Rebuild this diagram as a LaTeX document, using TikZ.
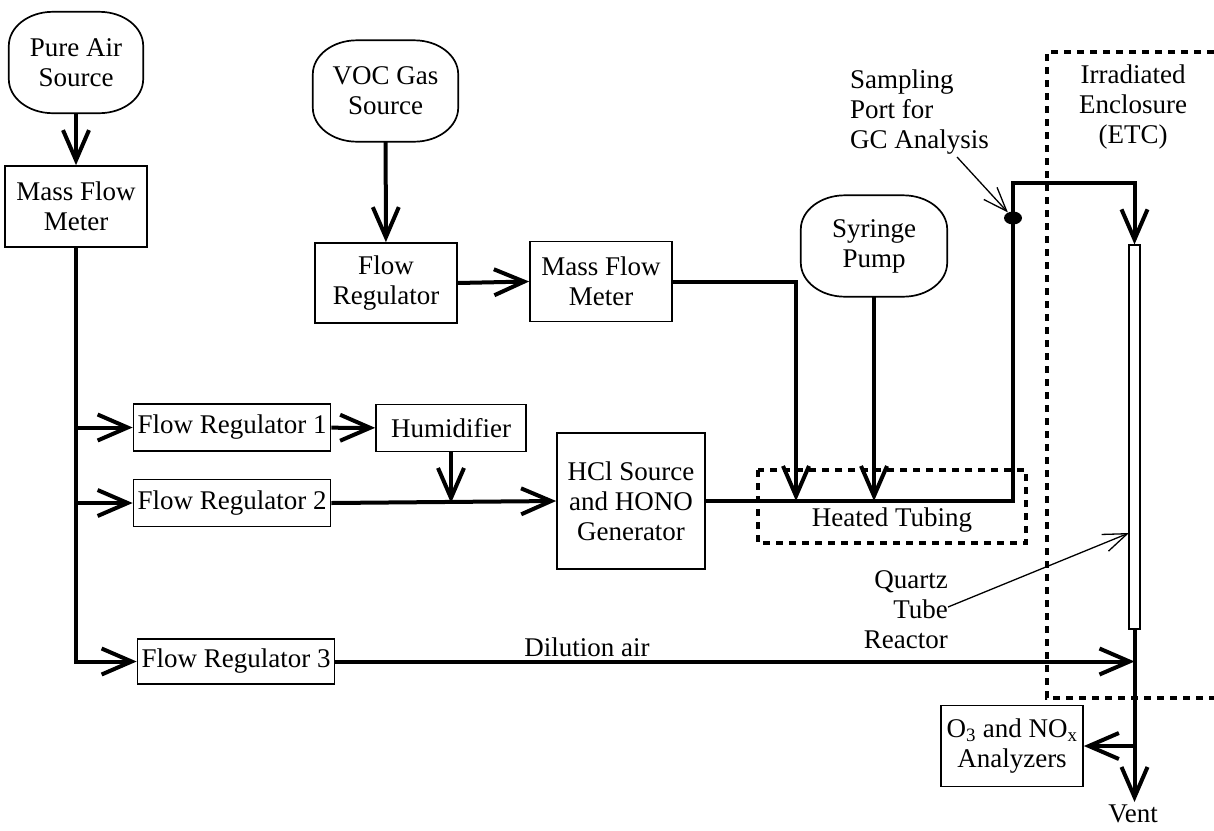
\documentclass[tikz,border=0pt]{standalone}
\usepackage{fontspec}
\setmainfont{Liberation Serif}
\usetikzlibrary{arrows.meta,calc,shapes.geometric}

% outline of a source node: a rectangle with elliptical corners
\newcommand\pillpath[1]{%
  \draw[line width=1.7pt]
    ([xshift=44pt]#1.north west) -- ([xshift=-44pt]#1.north east)
    arc[start angle=90,end angle=0,x radius=44pt,y radius=34pt]
    -- ([yshift=34pt]#1.south east)
    arc[start angle=0,end angle=-90,x radius=44pt,y radius=34pt]
    -- ([xshift=44pt]#1.south west)
    arc[start angle=-90,end angle=-180,x radius=44pt,y radius=34pt]
    -- ([yshift=-34pt]#1.north west)
    arc[start angle=180,end angle=90,x radius=44pt,y radius=34pt]
    -- cycle;}

\begin{document}
\begin{tikzpicture}[x=1pt,y=-1pt,
  every node/.style={font=\fontsize{27}{30}\selectfont, inner sep=0pt},
  box/.style={draw, line width=1.7pt, align=center},
  pill/.style={align=center},
  pipe/.style={line width=4pt},
  flow/.style={pipe, -{Straight Barb[length=30pt,width=26pt]}},
  pointer/.style={line width=1.3pt, -{Straight Barb[length=24pt,width=18pt]}},
  encl/.style={line width=3.3pt, dash pattern=on 7pt off 6pt},
  tubewall/.style={draw, line width=1.2pt, fill=white}
]
\useasboundingbox (0,0) rectangle (1214,830);

% sources
\node[pill, minimum width=134pt, minimum height=101pt] (air) at (76,62.5) {Pure Air\\Source};
\node[pill, minimum width=145pt, minimum height=101pt] (voc) at (385.5,91) {VOC Gas\\Source};
\node[pill, minimum width=146pt, minimum height=101pt] (pump) at (874,246) {Syringe\\Pump};
\pillpath{air}
\pillpath{voc}
\pillpath{pump}

% flow control units
\node[box, minimum width=142pt, minimum height=81pt] (mfm1) at (76,206.5) {Mass Flow\\Meter};
\node[box, minimum width=142pt, minimum height=80pt] (fr) at (386,283) {Flow\\Regulator};
\node[box, minimum width=142pt, minimum height=80pt] (mfm2) at (601,281.5) {Mass Flow\\Meter};
\node[box, minimum width=197pt, minimum height=47pt] (fr1) at (232,427.5) {Flow Regulator 1};
\node[box, minimum width=150pt, minimum height=47pt] (hum) at (451,428) {Humidifier};
\node[box, minimum width=197pt, minimum height=47pt] (fr2) at (232,503) {Flow Regulator 2};
\node[box, minimum width=148pt, minimum height=136pt] (hcl) at (631,501) {HCl Source\\and HONO\\Generator};
\node[box, minimum width=197pt, minimum height=45pt] (fr3) at (236,661.5) {Flow Regulator 3};
\node[box, minimum width=142pt, minimum height=81pt] (ana) at (1012,746)
  {O\textsubscript{3} and NO\textsubscript{x}\\Analyzers};

% heated tubing zone
\draw[encl] (758,470) rectangle (1026,543);
\node (heat) at (892,520) {Heated Tubing};

% irradiated enclosure
\draw[encl] (1214,52) -- (1047,52) -- (1047,698) -- (1214,698);
\node[align=center] (etc) at (1133,107) {Irradiated\\Enclosure\\(ETC)};

% quartz tube reactor
\node[tubewall, minimum width=11pt, minimum height=384pt] (tube) at (1134.5,437) {};

% labels
\node[align=left, anchor=west] (samp) at (850,112) {Sampling\\Port for\\GC Analysis};
\node[align=right, anchor=east] (quartz) at (948,610) {Quartz\\Tube\\Reactor};
\node (dil) at (587,647) {Dilution air};
\node (vent) at (1133,814) {Vent};

% junction points
\coordinate (j1) at (796,501);
\coordinate (j2) at (874,501);
\coordinate (top1) at (1013,183);
\coordinate (top2) at (1134.5,183);
\coordinate (ventend) at (1134.5,802);
\coordinate (samptail) at (957,157);
\coordinate (tubepoint) at (1129,533);

% pure air line and branches
\draw[flow] (air) -- (mfm1);
\draw[flow] (mfm1.south) |- (fr3.west);
\draw[flow] (mfm1.south |- fr1.west) -- (fr1.west);
\draw[flow] (mfm1.south |- fr2.west) -- (fr2.west);

% VOC line
\draw[flow] (voc) -- (fr);
\draw[flow] (fr.east) -- (mfm2.west);
\draw[flow] (mfm2.east) -| (j1);
\draw[flow] (pump) -- (j2);

% humidified air and HONO generator
\draw[flow] (fr1) -- (hum);
\draw[flow] (hum.south) -- (hum.south |- fr2.east);
\draw[flow] (fr2.east) -- (hcl.west);

% feed to the reactor
\draw[flow] (hcl.east) -| (top1) -- (top2) -- (tube.north);
\node[ellipse, fill, minimum width=18pt, minimum height=13pt] (port) at (1013,218) {};

% reactor outlet
\draw[flow] (tube.south) -- (ventend);
\draw[flow] (fr3.east) -- (tube.south |- fr3.east);
\draw[flow] (tube.south |- ana.east) -- (ana.east);

% pointers
\draw[pointer] (samptail) -- (port);
\draw[pointer] (quartz.east) ++(0,-3) -- (tubepoint);
\end{tikzpicture}
\end{document}
